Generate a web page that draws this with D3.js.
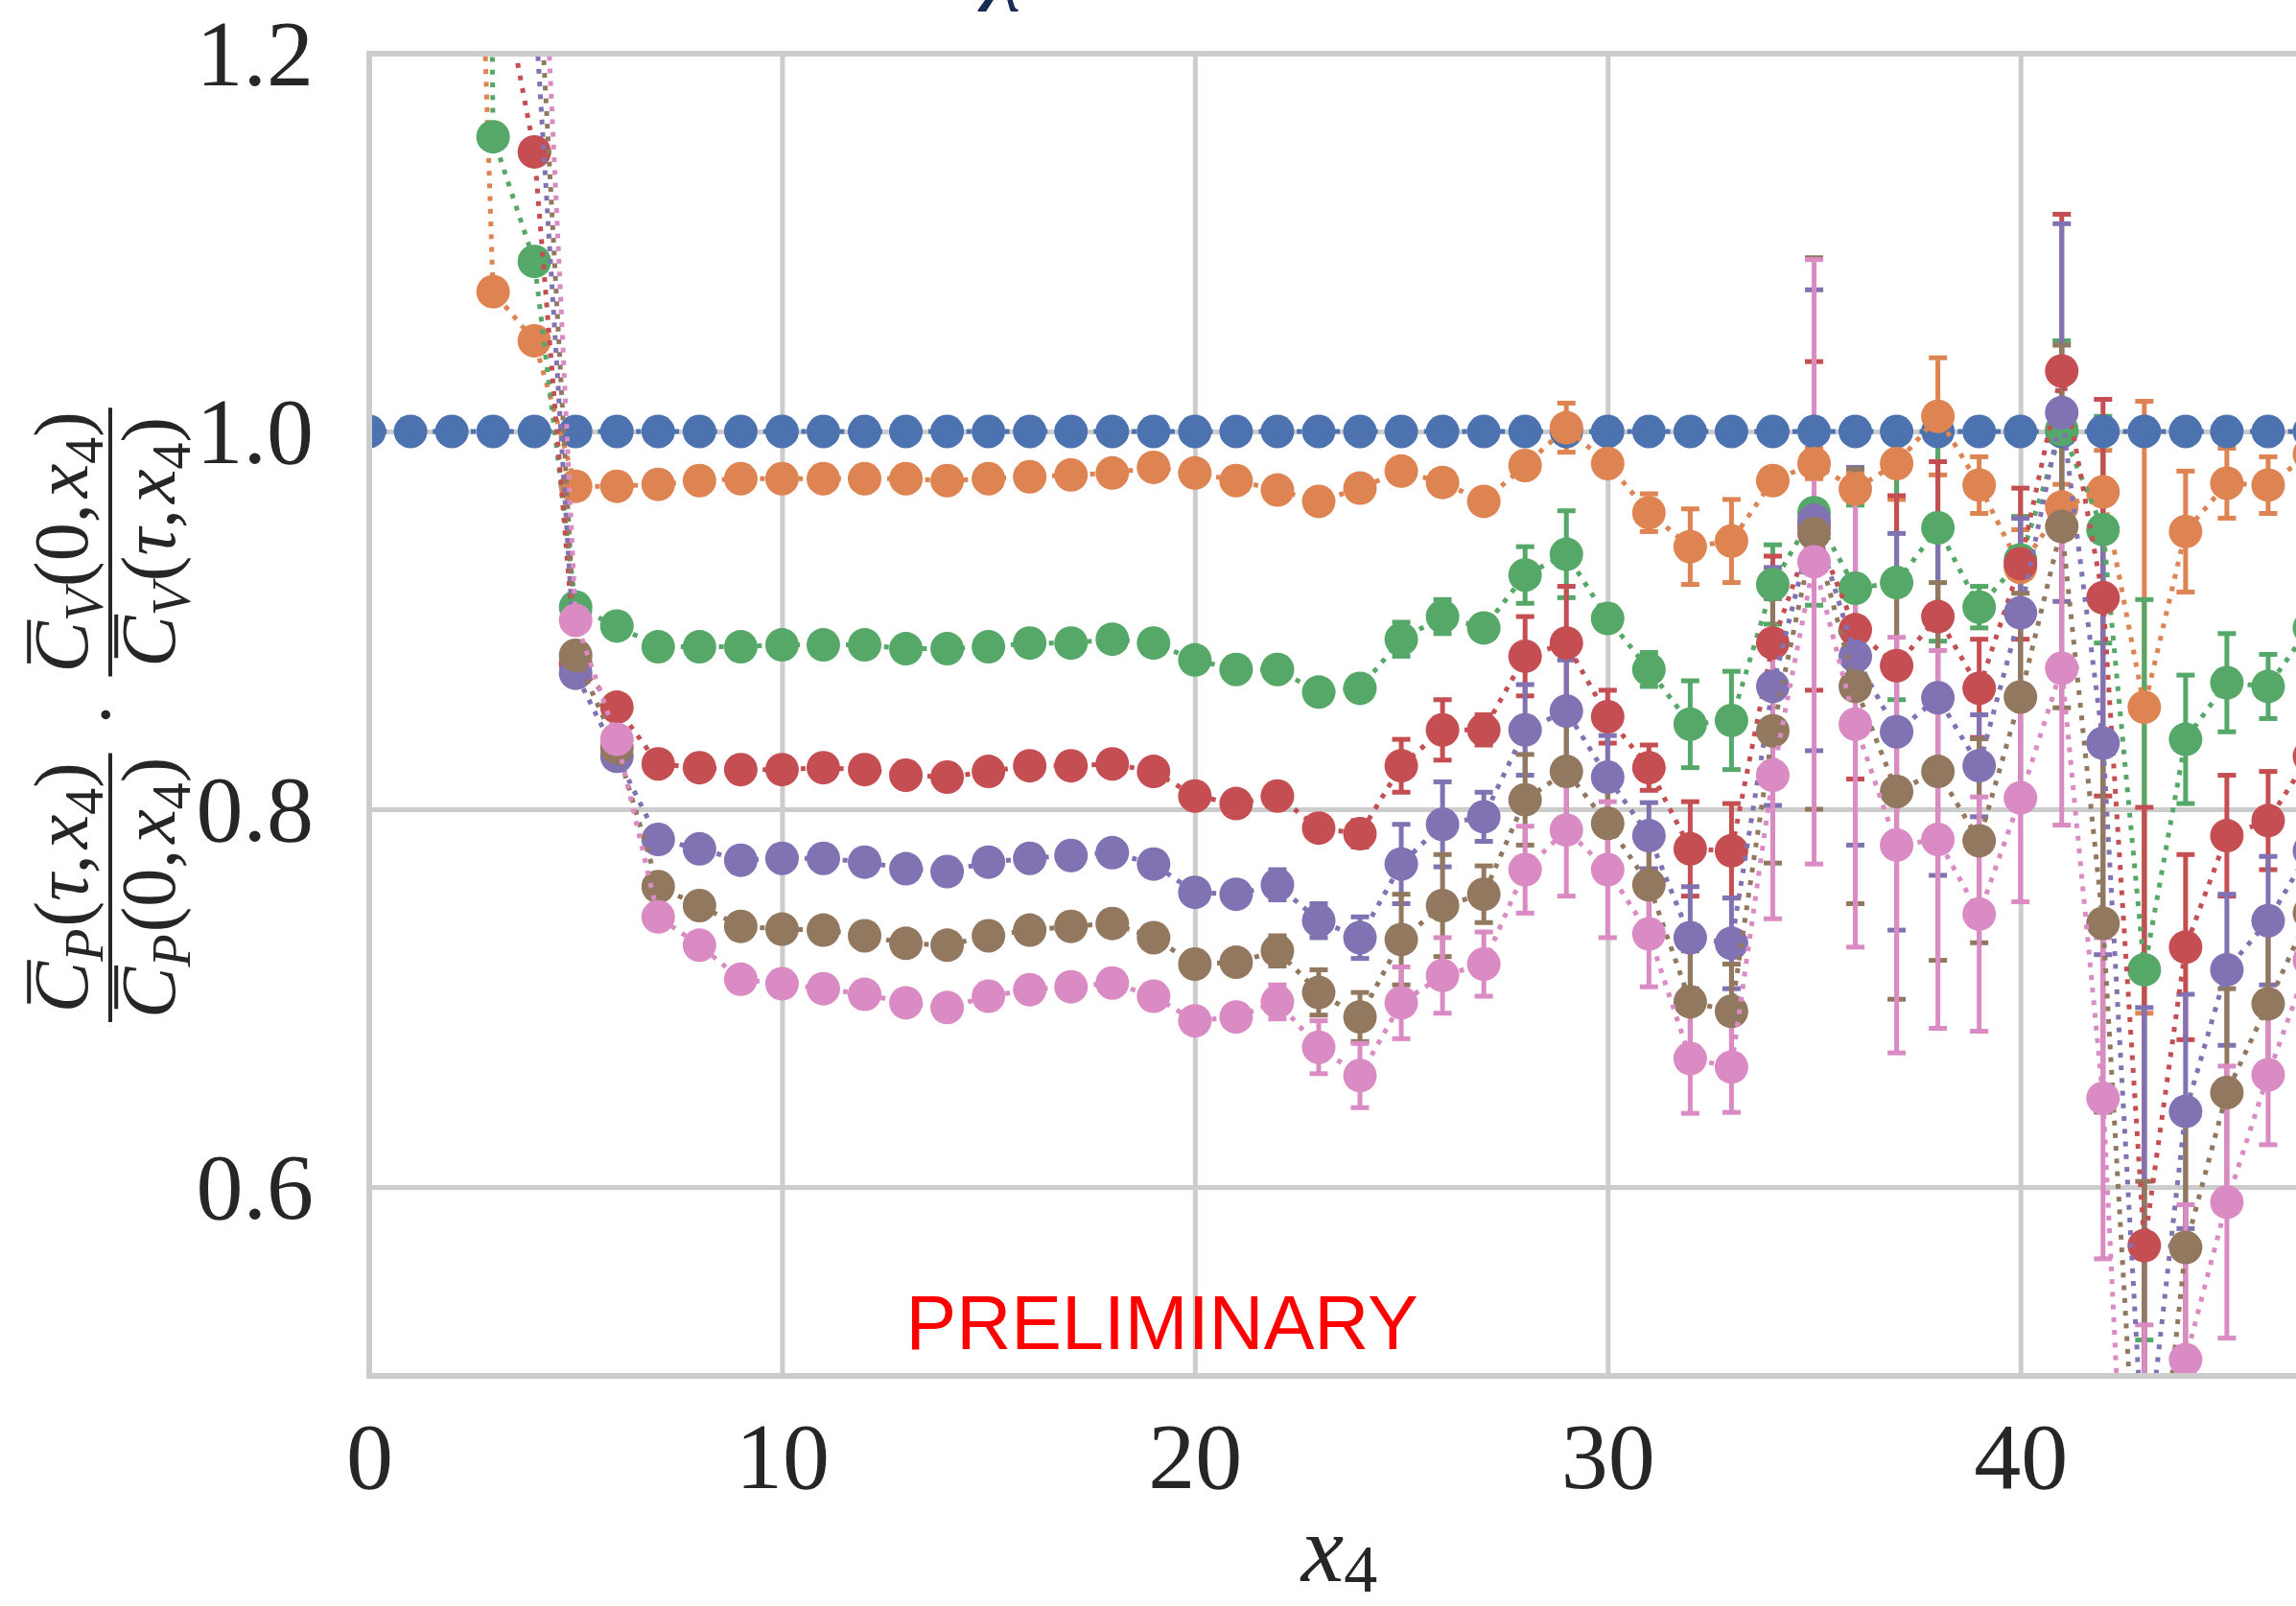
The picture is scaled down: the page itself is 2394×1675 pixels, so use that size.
<!DOCTYPE html>
<html>
<head>
<meta charset="utf-8">
<script src="https://cdn.jsdelivr.net/npm/d3@7"></script>
<style>
  html, body { margin: 0; padding: 0; background: #ffffff; }
  svg { display: block; }
</style>
</head>
<body>
<svg id="chart" width="2394" height="1675"></svg>
<script>
// ---- data -------------------------------------------------------------
const x4 = [0, 1, 2, 3, 4, 5, 6, 7, 8, 9, 10, 11, 12, 13, 14, 15, 16, 17, 18, 19,
            20, 21, 22, 23, 24, 25, 26, 27, 28, 29, 30, 31, 32, 33, 34, 35, 36, 37, 38, 39,
            40, 41, 42, 43, 44, 45, 46, 47];

const ratioTau0 = [1, 1, 1, 1, 1, 1, 1, 1, 1, 1, 1, 1, 1, 1, 1, 1, 1, 1, 1, 1,
                   1, 1, 1, 1, 1, 1, 1, 1, 1, 1, 1, 1, 1, 1, 1, 1, 1, 1, 1, 1,
                   1, 1, 1, 1, 1, 1, 1, 1];
const errTau0 = [0, 0, 0, 0, 0, 0, 0, 0, 0, 0, 0, 0, 0, 0, 0, 0, 0, 0, 0, 0,
                 0, 0, 0, 0, 0, 0, 0, 0, 0, 0, 0, 0, 0, 0, 0, 0, 0, 0, 0, 0,
                 0, 0, 0, 0, 0, 0, 0, 0];

const ratioTau1 = [3.0, 2.3, 1.74, 1.074, 1.048, 0.971, 0.971, 0.972, 0.974, 0.975,
                   0.975, 0.975, 0.975, 0.975, 0.974, 0.975, 0.976, 0.977, 0.978, 0.981,
                   0.978, 0.974, 0.969, 0.963, 0.970, 0.979, 0.973, 0.963, 0.982, 1.002,
                   0.983, 0.957, 0.939, 0.942, 0.974, 0.983, 0.9695, 0.983, 1.008, 0.9716,
                   0.928, 0.960, 0.968, 0.854, 0.947, 0.9726, 0.9716, 0.988];
const errTau1 = [0, 0, 0, 0.003, 0.003, 0.002, 0.002, 0.002, 0.002, 0.002,
                 0.002, 0.002, 0.002, 0.002, 0.002, 0.002, 0.002, 0.002, 0.002, 0.002,
                 0.003, 0.003, 0.003, 0.003, 0.003, 0.004, 0.004, 0.004, 0.006, 0.013,
                 0.006, 0.010, 0.020, 0.022, 0.006, 0.008, 0.008, 0.019, 0.031, 0.015,
                 0.020, 0.012, 0.022, 0.162, 0.032, 0.0185, 0.015, 0.015];

const ratioTau2 = [6, 5, 3.5, 1.156, 1.090, 0.907, 0.897, 0.886, 0.886, 0.886,
                   0.887, 0.887, 0.887, 0.885, 0.885, 0.886, 0.888, 0.888, 0.890, 0.888,
                   0.879, 0.874, 0.874, 0.862, 0.864, 0.890, 0.902, 0.896, 0.924, 0.935,
                   0.901, 0.874, 0.845, 0.847, 0.919, 0.957, 0.917, 0.920, 0.949, 0.907,
                   0.932, 1.001, 0.948, 0.715, 0.837, 0.867, 0.865, 0.896];
const errTau2 = [0, 0, 0, 0.003, 0.003, 0.003, 0.003, 0.003, 0.003, 0.003,
                 0.003, 0.003, 0.003, 0.003, 0.003, 0.003, 0.003, 0.003, 0.003, 0.003,
                 0.003, 0.003, 0.003, 0.004, 0.005, 0.009, 0.009, 0.005, 0.015, 0.023,
                 0.006, 0.009, 0.023, 0.026, 0.021, 0.049, 0.044, 0.062, 0.060, 0.011,
                 0.023, 0.047, 0.060, 0.196, 0.034, 0.026, 0.017, 0.020];

const ratioTau3 = [8, 5, 2.5, 1.264, 1.148, 0.877, 0.854, 0.824, 0.822, 0.821,
                   0.821, 0.822, 0.821, 0.818, 0.817, 0.820, 0.823, 0.823, 0.824, 0.820,
                   0.807, 0.803, 0.807, 0.790, 0.787, 0.823, 0.842, 0.842, 0.881, 0.888,
                   0.849, 0.822, 0.779, 0.778, 0.888, 0.950, 0.895, 0.876, 0.902, 0.864,
                   0.930, 1.032, 0.912, 0.569, 0.727, 0.786, 0.794, 0.828];
const errTau3 = [0, 0, 0, 0, 0.003, 0.003, 0.003, 0.003, 0.003, 0.003,
                 0.003, 0.003, 0.003, 0.003, 0.003, 0.003, 0.003, 0.003, 0.003, 0.003,
                 0.003, 0.003, 0.005, 0.006, 0.007, 0.014, 0.016, 0.008, 0.021, 0.030,
                 0.014, 0.012, 0.025, 0.025, 0.046, 0.087, 0.079, 0.090, 0.082, 0.026,
                 0.040, 0.083, 0.105, 0.232, 0.049, 0.032, 0.026, 0.030];

const ratioTau4 = [9, 6, 3.5, 2.0, 1.23, 0.872, 0.828, 0.784, 0.779, 0.773,
                   0.774, 0.774, 0.772, 0.7685, 0.767, 0.772, 0.774, 0.7755, 0.777, 0.771,
                   0.756, 0.755, 0.760, 0.741, 0.732, 0.771, 0.792, 0.796, 0.842, 0.852,
                   0.817, 0.786, 0.732, 0.729, 0.865, 0.953, 0.881, 0.841, 0.859, 0.823,
                   0.904, 1.010, 0.835, 0.445, 0.640, 0.715, 0.741, 0.778];
const errTau4 = [0, 0, 0, 0, 0, 0.003, 0.003, 0.003, 0.003, 0.003,
                 0.003, 0.003, 0.003, 0.003, 0.003, 0.003, 0.003, 0.003, 0.003, 0.003,
                 0.003, 0.003, 0.008, 0.009, 0.011, 0.021, 0.0225, 0.013, 0.024, 0.027,
                 0.022, 0.0175, 0.027, 0.024, 0.063, 0.122, 0.100, 0.105, 0.094, 0.027,
                 0.050, 0.100, 0.112, 0.250, 0.062, 0.040, 0.034, 0.035];

const ratioTau5 = [10, 7, 4, 2.2, 1.29, 0.8815, 0.8326, 0.759, 0.749, 0.738,
                   0.7365, 0.736, 0.733, 0.729, 0.728, 0.733, 0.736, 0.738, 0.7395, 0.732,
                   0.718, 0.719, 0.725, 0.703, 0.690, 0.731, 0.749, 0.755, 0.805, 0.820,
                   0.7925, 0.760, 0.698, 0.693, 0.8415, 0.946, 0.865, 0.8094, 0.820, 0.7833,
                   0.8594, 0.9497, 0.7396, 0.36, 0.568, 0.650, 0.697, 0.745];
const errTau5 = [0, 0, 0, 0, 0, 0.003, 0.003, 0.003, 0.003, 0.003,
                 0.003, 0.003, 0.003, 0.003, 0.003, 0.003, 0.003, 0.003, 0.003, 0.003,
                 0.003, 0.003, 0.008, 0.012, 0.013, 0.024, 0.027, 0.015, 0.024, 0.030,
                 0.025, 0.022, 0.027, 0.025, 0.070, 0.146, 0.115, 0.110, 0.100, 0.054,
                 0.055, 0.096, 0.100, 0.243, 0.070, 0.055, 0.040, 0.040];

const ratioTau6 = [12, 8, 5, 2.5, 1.37, 0.900, 0.837, 0.743, 0.728, 0.710,
                   0.7076, 0.705, 0.702, 0.6975, 0.695, 0.701, 0.7045, 0.706, 0.708, 0.701,
                   0.688, 0.690, 0.698, 0.674, 0.659, 0.6975, 0.712, 0.718, 0.768, 0.789,
                   0.768, 0.734, 0.668, 0.6635, 0.818, 0.931, 0.845, 0.781, 0.784, 0.7445,
                   0.806, 0.8746, 0.647, 0.2, 0.5086, 0.592, 0.6594, 0.72];
const errTau6 = [0, 0, 0, 0, 0, 0.003, 0.003, 0.003, 0.003, 0.003,
                 0.003, 0.003, 0.003, 0.003, 0.003, 0.003, 0.003, 0.003, 0.003, 0.003,
                 0.003, 0.003, 0.009, 0.014, 0.017, 0.019, 0.020, 0.017, 0.023, 0.035,
                 0.036, 0.028, 0.029, 0.024, 0.076, 0.160, 0.118, 0.110, 0.100, 0.062,
                 0.055, 0.083, 0.085, 0.327, 0.082, 0.072, 0.037, 0.040];

const seriesColors = ['#4c72b0', '#dd8452', '#55a868', '#c44e52', '#8172b3', '#937860', '#da8bc3'];
const seriesValues = [ratioTau0, ratioTau1, ratioTau2, ratioTau3, ratioTau4, ratioTau5, ratioTau6];
const seriesErrors = [errTau0, errTau1, errTau2, errTau3, errTau4, errTau5, errTau6];

const xTicks = [0, 10, 20, 30, 40];
const yTicks = [0.6, 0.8, 1.0, 1.2];

// ---- layout -----------------------------------------------------------
const W = 2394, H = 1675;
const plot = { left: 385, top: 56, right: 2408, bottom: 1435 };
const SERIF = "'Liberation Serif', 'DejaVu Serif', serif";
const INK = '#262626';
const GRID = '#cccccc';

const x = d3.scaleLinear().domain([0, 47]).range([plot.left, plot.right]);
const y = d3.scaleLinear().domain([0.5, 1.2]).range([plot.bottom, plot.top]);

const svg = d3.select('#chart');
svg.append('rect').attr('width', W).attr('height', H).attr('fill', '#ffffff');

svg.append('defs').append('clipPath').attr('id', 'plot-clip')
  .append('rect')
  .attr('x', plot.left).attr('y', plot.top)
  .attr('width', plot.right - plot.left).attr('height', plot.bottom - plot.top);

// ---- axes with grid lines ---------------------------------------------
const xAxis = svg.append('g')
  .attr('transform', `translate(0,${plot.bottom})`)
  .call(d3.axisBottom(x).tickValues(xTicks).tickFormat(d3.format('d'))
        .tickSize(-(plot.bottom - plot.top)).tickPadding(47));
const yAxis = svg.append('g')
  .attr('transform', `translate(${plot.left},0)`)
  .call(d3.axisLeft(y).tickValues(yTicks).tickFormat(d3.format('.1f'))
        .tickSize(-(plot.right - plot.left)).tickPadding(58));

[xAxis, yAxis].forEach(ax => {
  ax.select('.domain').remove();
  ax.selectAll('.tick line').attr('stroke', GRID).attr('stroke-width', 5);
  ax.selectAll('.tick text')
    .attr('fill', INK).attr('font-family', SERIF).attr('font-size', 98);
});
yAxis.selectAll('.tick text').attr('dy', '0.33em');

// ---- error bars (drawn beneath every data line) -----------------------
const bars = svg.append('g').attr('clip-path', 'url(#plot-clip)');
const CAP = 9.5;
seriesValues.forEach((vals, si) => {
  const g = bars.append('g').attr('stroke', seriesColors[si]).attr('stroke-width', 5);
  vals.forEach((v, i) => {
    const e = seriesErrors[si][i];
    if (!(e > 0)) return;
    const cx = x(x4[i]);
    const yHi = y(v + e), yLo = y(v - e);
    g.append('line').attr('x1', cx).attr('x2', cx).attr('y1', yHi).attr('y2', yLo);
    g.append('line').attr('x1', cx - CAP).attr('x2', cx + CAP).attr('y1', yHi).attr('y2', yHi);
    g.append('line').attr('x1', cx - CAP).attr('x2', cx + CAP).attr('y1', yLo).attr('y2', yLo);
  });
});

// ---- dotted lines and markers -----------------------------------------
const data = svg.append('g').attr('clip-path', 'url(#plot-clip)');
const line = d3.line().x((d, i) => x(x4[i])).y(d => y(d));
seriesValues.forEach((vals, si) => {
  const g = data.append('g');
  g.append('path')
    .attr('d', line(vals))
    .attr('fill', 'none')
    .attr('stroke', seriesColors[si])
    .attr('stroke-width', 5)
    .attr('stroke-dasharray', '5 8.25')
    .attr('stroke-linecap', 'butt');
  g.selectAll('circle').data(vals).join('circle')
    .attr('cx', (d, i) => x(x4[i]))
    .attr('cy', d => y(d))
    .attr('r', 17.5)
    .attr('fill', seriesColors[si]);
});

// ---- frame ------------------------------------------------------------
const frame = svg.append('g').attr('stroke', GRID).attr('stroke-width', 6).attr('stroke-linecap', 'square');
frame.append('line').attr('x1', plot.left).attr('x2', plot.left).attr('y1', plot.top).attr('y2', plot.bottom);
frame.append('line').attr('x1', plot.left).attr('x2', plot.right).attr('y1', plot.top).attr('y2', plot.top);
frame.append('line').attr('x1', plot.left).attr('x2', plot.right).attr('y1', plot.bottom).attr('y2', plot.bottom);
frame.append('line').attr('x1', plot.right).attr('x2', plot.right).attr('y1', plot.top).attr('y2', plot.bottom);

// ---- watermark --------------------------------------------------------
svg.append('text')
  .attr('x', x(13)).attr('y', y(0.514))
  .attr('font-family', "'Liberation Sans', Arial, sans-serif")
  .attr('font-size', 79)
  .attr('fill', '#ff0000')
  .text('PRELIMINARY');

// ---- title (sits above the canvas, only its descender shows) ----------
svg.append('text')
  .attr('x', 1048).attr('y', -8)
  .attr('text-anchor', 'middle')
  .attr('font-family', SERIF).attr('font-style', 'italic')
  .attr('font-size', 96)
  .attr('fill', '#172b54')
  .text('χ');

// ---- x label ----------------------------------------------------------
const xl = svg.append('text')
  .attr('x', (plot.left + plot.right) / 2).attr('y', 1649)
  .attr('text-anchor', 'middle')
  .attr('font-family', SERIF).attr('fill', INK).attr('font-size', 100);
xl.append('tspan').attr('font-style', 'italic').text('x');
xl.append('tspan').attr('font-size', 70).attr('dy', 11).text('4');

// ---- y label: product of two ratios, set like a math formula ----------
const F = 80, FS = 56;
function mathRun(g, parts) {
  let cx = 0;
  parts.forEach(p => {
    const fs = p.sub ? FS : F;
    const t = g.append('text')
      .attr('x', cx).attr('y', p.sub ? F * 0.2 : 0)
      .attr('font-family', SERIF).attr('font-size', fs)
      .attr('font-style', p.it ? 'italic' : 'normal')
      .attr('fill', INK).text(p.t);
    const w = t.node().getComputedTextLength();
    if (p.over) {
      g.append('line')
        .attr('x1', cx + F * 0.12).attr('x2', cx + w + F * 0.02)
        .attr('y1', -F * 0.76).attr('y2', -F * 0.76)
        .attr('stroke', INK).attr('stroke-width', 4);
    }
    cx += w + (p.after || 0);
  });
  return cx;
}
function term(letter, a) {
  return [
    { t: 'C', it: true, over: true },
    { t: letter, it: true, sub: true, after: 2 },
    { t: '(' },
    a === '0' ? { t: '0' } : { t: 'τ', it: true },
    { t: ',', after: 6 },
    { t: 'x', it: true },
    { t: '4', sub: true },
    { t: ')' }
  ];
}
function fraction(g, num, den) {
  const gn = g.append('g'), gd = g.append('g');
  const wn = mathRun(gn, num), wd = mathRun(gd, den);
  const w = Math.max(wn, wd) + 8;
  gn.attr('transform', `translate(${(w - wn) / 2},-24)`);
  gd.attr('transform', `translate(${(w - wd) / 2},67)`);
  g.append('line').attr('x1', 0).attr('x2', w).attr('y1', 0).attr('y2', 0)
    .attr('stroke', INK).attr('stroke-width', 4);
  return w;
}
const yl = svg.append('g')
  .attr('transform', `translate(115,${(plot.top + plot.bottom) / 2}) rotate(-90)`);
const f1 = yl.append('g');
const w1 = fraction(f1, term('P', 't'), term('P', '0'));
const f2 = yl.append('g');
fraction(f2, term('V', '0'), term('V', 't'));
const GAP = 40;
f1.attr('transform', `translate(${-GAP - w1},0)`);
f2.attr('transform', `translate(${GAP},0)`);
yl.append('text')
  .attr('x', 0).attr('y', F * 0.27)
  .attr('text-anchor', 'middle')
  .attr('font-family', SERIF).attr('font-size', F).attr('fill', INK)
  .text('·');
</script>
</body>
</html>
